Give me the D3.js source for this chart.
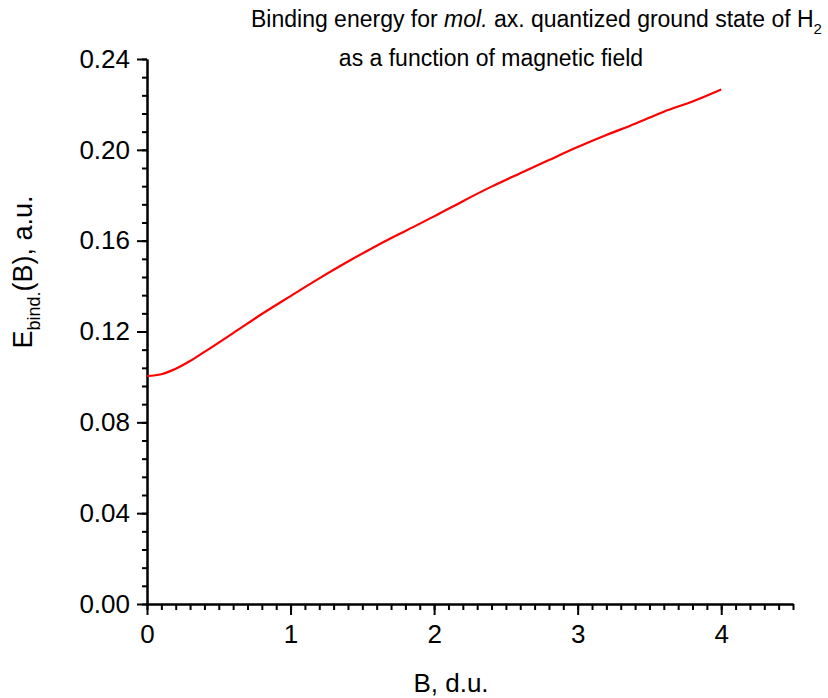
<!DOCTYPE html>
<html>
<head>
<meta charset="utf-8">
<script src="https://cdn.jsdelivr.net/npm/d3@7"></script>
<style>
  body { margin: 0; background: #fff; }
  text { font-family: Arial, "Liberation Sans", sans-serif; fill: #000; }
  .axis path, .axis line { stroke: #000; stroke-width: 2px; }
  .axis text { font-size: 26px; }
</style>
</head>
<body>
<svg id="chart" width="828" height="698"></svg>
<script>
// data
const B = [0, 0.1, 0.2, 0.3, 0.4, 0.6, 0.8, 1.0, 1.2, 1.4, 1.6, 1.8, 2.0,
           2.2, 2.4, 2.6, 2.8, 3.0, 3.2, 3.4, 3.6, 3.8, 4.0]
const Ebind = [0.1004, 0.1012, 0.1036, 0.1070, 0.1110, 0.1193, 0.1277, 0.1356, 0.1434, 0.1508, 0.1578, 0.1643, 0.1707,
               0.1774, 0.1838, 0.1897, 0.1955, 0.2012, 0.2065, 0.2115, 0.2168, 0.2213, 0.2266]
const xTicks = [0, 1, 2, 3, 4]
const yTicks = [0, 0.04, 0.08, 0.12, 0.16, 0.20, 0.24]

let svg = d3.select("#chart")

let xScale = d3.scaleLinear().domain([0, 4.5]).range([147, 793])
let yScale = d3.scaleLinear().domain([0, 0.24]).range([604, 59])

// minor ticks
let xMinor = d3.range(0, 4.5001, 0.1)
let yMinor = d3.range(0, 0.2401, 0.008)

svg.append("g").attr("class", "axis")
    .attr("transform", `translate(0,${604})`)
    .call(d3.axisBottom(xScale).tickValues(xMinor).tickSize(6).tickFormat("").tickSizeOuter(0))
svg.append("g").attr("class", "axis")
    .attr("transform", `translate(${147},0)`)
    .call(d3.axisLeft(yScale).tickValues(yMinor).tickSize(5).tickFormat("").tickSizeOuter(0))

// major ticks
svg.append("g").attr("class", "axis")
    .attr("transform", `translate(0,${604})`)
    .call(d3.axisBottom(xScale).tickValues(xTicks).tickSize(11).tickSizeOuter(0)
        .tickPadding(10).tickFormat(d3.format("d")))
svg.append("g").attr("class", "axis")
    .attr("transform", `translate(${147},0)`)
    .call(d3.axisLeft(yScale).tickValues(yTicks).tickSize(10).tickSizeOuter(0)
        .tickPadding(7).tickFormat(d3.format(".2f")))

// curve
let line = d3.line()
    .x((d, i) => xScale(B[i]))
    .y((d, i) => yScale(Ebind[i]))
    .curve(d3.curveMonotoneX)

svg.append("path")
    .datum(Ebind)
    .attr("d", line)
    .attr("fill", "none")
    .attr("stroke", "#ff0000")
    .attr("stroke-width", 2.2)

// title
let t1 = svg.append("text").attr("x", 251).attr("y", 27).style("font-size", "23px")
t1.append("tspan").text("Binding energy for ")
t1.append("tspan").style("font-style", "italic").text("mol.")
t1.append("tspan").text(" ax. quantized ground state of H")
t1.append("tspan").attr("dy", 7).style("font-size", "15px").text("2")

svg.append("text").attr("x", 491).attr("y", 66)
    .attr("text-anchor", "middle").style("font-size", "23px")
    .text("as a function of magnetic field")

// axis labels
svg.append("text").attr("x", 451).attr("y", 692)
    .attr("text-anchor", "middle").style("font-size", "26px")
    .text("B, d.u.")

let yl = svg.append("text")
    .attr("transform", `translate(${32},${272}) rotate(-90)`)
    .attr("text-anchor", "middle").style("font-size", "27px")
yl.append("tspan").text("E")
yl.append("tspan").attr("dy", 8).style("font-size", "18px").text("bind.")
yl.append("tspan").attr("dy", -8).text("(B), a.u.")
</script>
</body>
</html>
